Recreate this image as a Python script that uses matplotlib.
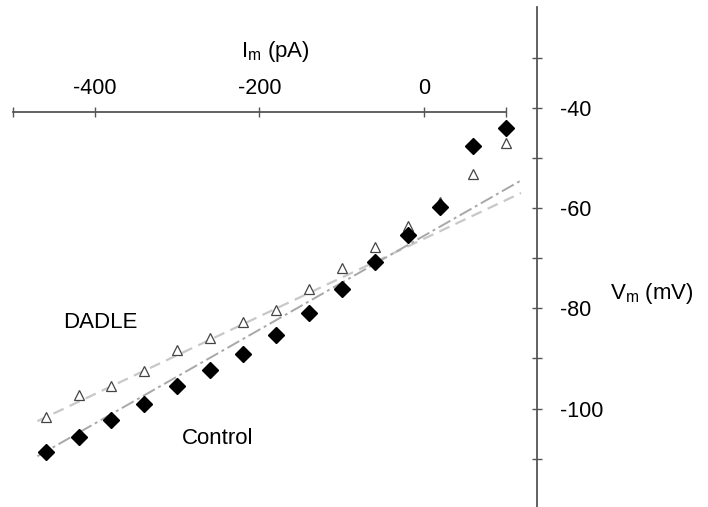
import matplotlib
matplotlib.use("Agg")
import matplotlib.pyplot as plt

plt.rcParams['font.family'] = ['Liberation Sans', 'DejaVu Sans']
plt.rcParams['mathtext.default'] = 'regular'

# Data
current_pA = [-460, -420, -380, -340, -300, -260, -220, -180, -140, -100, -60, -20, 20, 60, 100]
control_mV = [-108.7, -105.6, -102.3, -99.1, -95.5, -92.3, -89.1, -85.3, -80.9, -76.2,
              -70.8, -65.3, -59.7, -47.6, -44.1]
dadle_mV = [-101.6, -97.3, -95.4, -92.5, -88.3, -86.0, -82.8, -80.3, -76.1, -72.0,
            -67.7, -63.6, -58.9, -53.2, -47.1]

# Fit lines (end points)
control_fit_I = [-470, 118]
control_fit_V = [-109.5, -54.5]
dadle_fit_I = [-470, 118]
dadle_fit_V = [-102.5, -57.0]

x_ticks = [-400, -200, 0]
x_minor = [-500, 100]
y_ticks = [-40, -60, -80, -100]
y_minor = [-30, -50, -70, -90, -110]

W, H = 708, 507
fig = plt.figure(figsize=(W / 100, H / 100), dpi=100)
ax = fig.add_axes([0, 0, 1, 1])
ax.set_facecolor('white')

ax.set_xlim(-515.5, 345.3)
ax.set_ylim(-119.62, -18.52)

axis_col = '#555555'
for s in ['left', 'bottom']:
    ax.spines[s].set_visible(False)
ax.spines['top'].set_position(('data', -40.8))
ax.spines['top'].set_bounds(-500, 100)
ax.spines['right'].set_position(('data', 137.5))
ax.spines['right'].set_bounds(-119.62, -20)
for s in ['top', 'right']:
    ax.spines[s].set_color(axis_col)
    ax.spines[s].set_linewidth(1.3)

ax.xaxis.set_ticks_position('top')
ax.yaxis.set_ticks_position('right')
ax.set_xticks(x_ticks)
ax.set_xticklabels([str(v) for v in x_ticks])
ax.set_xticks(x_minor, minor=True)
ax.set_yticks(y_ticks)
ax.set_yticklabels([str(v) for v in y_ticks])
ax.set_yticks(y_minor, minor=True)
ax.tick_params(axis='x', which='both', direction='inout', length=7, width=1.0,
               color=axis_col, labelsize=15.5, pad=6)
ax.tick_params(axis='y', which='both', direction='inout', length=7, width=1.0,
               color=axis_col, labelsize=15.5, pad=13)

# Fit lines
ax.plot(dadle_fit_I, dadle_fit_V, color='#c8c8c8', lw=1.6, ls=(0, (5, 3)), zorder=1)
ax.plot(control_fit_I, control_fit_V, color='#a8a8a8', lw=1.4, ls=(0, (7, 2, 1.5, 2)), zorder=1)

# Markers
ax.plot(current_pA, dadle_mV, ls='none', marker='^', markersize=6.5,
        markerfacecolor='white', markeredgecolor='#444444', markeredgewidth=0.9, zorder=3)
ax.plot(current_pA, control_mV, ls='none', marker='D', markersize=8.5,
        markerfacecolor='black', markeredgecolor='black', zorder=4)

# Labels
fig.text(241 / W, 1 - 52 / H, 'I$_m$ (pA)', fontsize=16, ha='left', va='center')
fig.text(610 / W, 1 - 293 / H, 'V$_m$ (mV)', fontsize=16, ha='left', va='center')
fig.text(63 / W, 1 - 322 / H, 'DADLE', fontsize=16, ha='left', va='center')
fig.text(182 / W, 1 - 439 / H, 'Control', fontsize=16, ha='left', va='center')

fig.savefig('out.png', dpi=100, facecolor='white')
